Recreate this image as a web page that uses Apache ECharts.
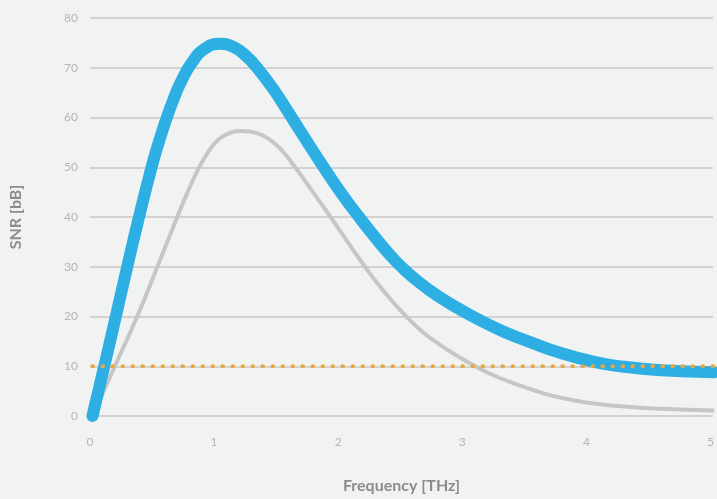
<!DOCTYPE html>
<html>
<head>
<meta charset="utf-8">
<script src="https://cdn.jsdelivr.net/npm/echarts@6/dist/echarts.min.js"></script>
<style>
html,body{margin:0;padding:0;background:#f1f2f2;}
#chart{width:717px;height:499px;}
</style>
</head>
<body>
<div id="chart"></div>
<script>
const xTicks = [0, 1, 2, 3, 4, 5];
const yTicks = [0, 10, 20, 30, 40, 50, 60, 70, 80];
const blueSeries = [[0.02,0],[0.115,10],[0.208,20],[0.30,30],[0.395,40],[0.496,50],[0.556,55.2],[0.616,59.8],[0.672,63.6],[0.728,66.9],[0.82,71.0],[0.93,73.9],[1.05,74.8],[1.17,74.0],[1.26,72.3],[1.34,70.2],[1.48,65.6],[1.61,60.6],[1.74,55.5],[1.875,50.3],[2.03,44.6],[2.18,39.6],[2.34,34.6],[2.42,32.3],[2.50,30.2],[2.65,26.9],[2.81,24.0],[2.97,21.6],[3.13,19.4],[3.33,17.0],[3.53,15.0],[3.8,12.6],[4.06,10.9],[4.3,9.9],[4.6,9.2],[5.03,8.8]];
const graySeries = [[0.02,0],[0.2,10],[0.38,20],[0.54,29.8],[0.70,39.8],[0.78,44.6],[0.86,49.0],[0.94,52.6],[1.02,55.2],[1.1,56.6],[1.22,57.3],[1.34,56.9],[1.44,55.7],[1.53,53.8],[1.635,50.6],[1.78,45.6],[1.93,40.3],[2.07,35.2],[2.21,30.2],[2.37,25],[2.54,20.2],[2.68,16.9],[2.81,14.5],[2.95,12.2],[3.09,10.2],[3.25,8.2],[3.4,6.7],[3.66,4.5],[3.85,3.4],[4.06,2.5],[4.3,1.9],[4.6,1.45],[5.03,1.1]];
const thresholdLine = [[0.02,10],[5.03,10]];

const chart = echarts.init(document.getElementById('chart'));
chart.setOption({
  backgroundColor: '#f1f2f2',
  animation: false,
  grid: {left: 89, right: 0, top: 18, bottom: 81},
  xAxis: {
    type: 'value', min: 0, max: 5.02, interval: 1,
    name: 'Frequency [THz]', nameLocation: 'middle', nameGap: 62,
    nameTextStyle: {color: '#8c8c8c', fontSize: 16, fontWeight: 'bold', fontFamily: 'Lato'},
    axisLine: {show: false}, axisTick: {show: false}, splitLine: {show: false},
    axisLabel: {color: '#b5b5b5', fontSize: 12, fontFamily: 'Lato', margin: 20, showMaxLabel: false,
      formatter: v => xTicks.includes(v) ? String(v) : ''}
  },
  yAxis: {
    type: 'value', min: 0, max: 80, interval: 10,
    name: 'SNR [bB]', nameLocation: 'middle', nameGap: 66,
    nameTextStyle: {color: '#8c8c8c', fontSize: 16, fontWeight: 'bold', fontFamily: 'Lato'},
    axisLine: {show: false}, axisTick: {show: false},
    splitLine: {lineStyle: {color: '#d2d2d2', width: 2}},
    axisLabel: {color: '#b5b5b5', fontSize: 12, fontFamily: 'Lato', margin: 12,
      formatter: v => yTicks.includes(v) ? String(v) : ''}
  },
  series: [
    {type: 'line', data: graySeries, smooth: 0.5, showSymbol: false, z: 2,
     lineStyle: {color: '#c6c6c6', width: 4}},
    {type: 'line', data: blueSeries, smooth: 0.5, showSymbol: false, z: 3,
     lineStyle: {color: '#2eafe3', width: 12, cap: 'round'}},
    {type: 'line', data: thresholdLine, showSymbol: false, z: 4,
     lineStyle: {color: '#eaa640', width: 4, type: [0.5, 9.5], cap: 'round'}}
  ]
});
</script>
</body>
</html>
